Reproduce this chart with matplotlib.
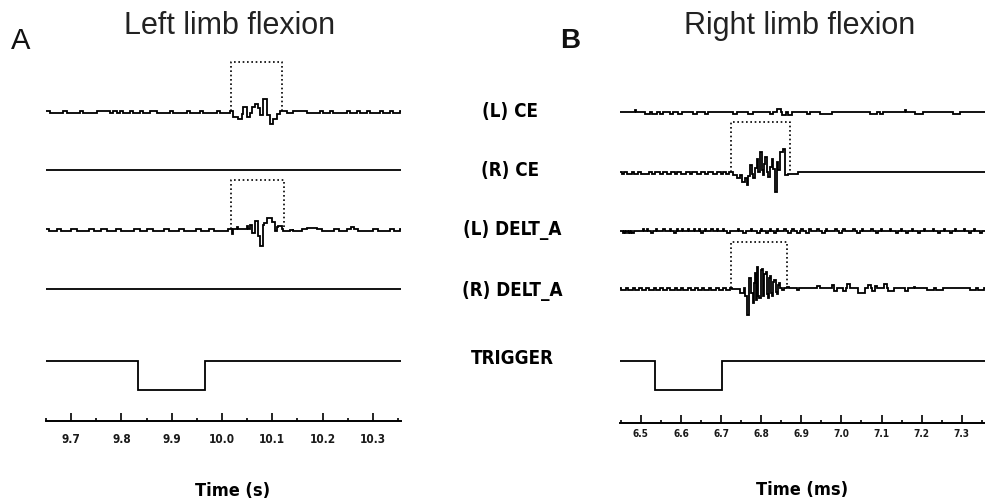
import matplotlib
matplotlib.use("Agg")
import matplotlib.pyplot as plt
from matplotlib.ticker import MultipleLocator, FormatStrFormatter

# === DATEN (Amplituden in Pixeln relativ zur Grundlinie, Zeit in s bzw. ms) ===

channels = ["(L) CE", "(R) CE", "(L) DELT_A", "(R) DELT_A", "TRIGGER"]

# --- A: linke Extremitaet ---
left_xlim = (9.650, 10.356)

lce_left_blips = [(9.658, 9.6845, -1.5), (9.691, 9.7176, -1.5), (9.7242, 9.7507, -1.5),
                  (9.7772, 9.7838, -1.5), (9.7905, 9.7971, -1.5), (9.8037, 9.817, -1.5),
                  (9.8236, 9.8369, -1.5), (9.8435, 9.8568, -1.5), (9.870, 9.8965, -1.5),
                  (9.9031, 9.9297, -1.5), (9.9363, 9.9562, -1.5), (9.9628, 9.9893, -1.5),
                  (9.996, 10.0158, -1.5), (10.1285, 10.1418, -1.5), (10.1682, 10.1947, -1.5),
                  (10.2013, 10.2146, -1.5), (10.2212, 10.2478, -1.5), (10.2544, 10.2677, -1.5),
                  (10.2743, 10.2875, -1.5), (10.2942, 10.314, -1.5), (10.3206, 10.3339, -1.5),
                  (10.3405, 10.3539, -1.5)]
lce_left_t = [10.0224, 10.0323, 10.0389, 10.0423, 10.049, 10.0556, 10.0589, 10.0655,
              10.0721, 10.0755, 10.0821, 10.0887, 10.0953, 10.1019, 10.1086, 10.1152]
lce_left_v = [-6, -8, -3, 4, -6, -2, 4, 7, 3, -4, 12, -4, -13, -8, -3, 0]

ldelt_left_blips = [(9.655, 9.672, -1.5), (9.680, 9.700, -1.5), (9.712, 9.735, -1.5),
                    (9.745, 9.760, -1.5), (9.772, 9.790, -1.5), (9.800, 9.826, -1.5),
                    (9.836, 9.850, -1.5), (9.862, 9.884, -1.5), (9.895, 9.915, -1.5),
                    (9.925, 9.948, -1.5), (9.958, 9.975, -1.5), (9.985, 10.012, -1.5),
                    (10.142, 10.160, -1.5), (10.170, 10.188, 1.5), (10.198, 10.222, -1.5),
                    (10.232, 10.248, -1.5), (10.256, 10.262, 2), (10.270, 10.300, -1.5),
                    (10.310, 10.335, -1.5), (10.342, 10.354, -1.5)]
ldelt_left_t = [10.0191, 10.0224, 10.0291, 10.0324, 10.0489, 10.0522, 10.0556, 10.0602,
                10.0655, 10.0721, 10.0754, 10.0807, 10.084, 10.0887, 10.0986, 10.1052,
                10.1085, 10.1118, 10.1185, 10.1218, 10.1351, 10.1417]
ldelt_left_v = [-5, 0, 2, 0, 3, 0, 4, -4, 8, -7, -17, 4, 6, 11, 7, -2, 2, 3, 0, -2, -1, 0]

trig_left_t = [9.833, 9.966]
trig_left_v = [-29, 0]

# Analysefenster (Start, Ende, Kanal, Hoehe)
windows_left = [(10.018, 10.119, 0, 49), (10.018, 10.123, 2, 49)]

# --- B: rechte Extremitaet ---
right_xlim = (6.448, 7.358)

lce_right_blips = [(6.4854, 6.4884, 2), (6.5103, 6.5228, -2), (6.527, 6.5394, -2),
                   (6.5478, 6.556, -2), (6.5727, 6.581, -2), (6.5934, 6.6018, -2),
                   (6.6309, 6.6392, -2), (6.66, 6.6682, -2), (6.7306, 6.739, -2),
                   (6.768, 6.7804, -2), (6.8221, 6.8303, -2), (6.8387, 6.8487, 3),
                   (6.8512, 6.862, -2.5), (6.866, 6.8761, -2.5), (6.9135, 6.9219, -2),
                   (6.9469, 6.9759, -2), (7.0715, 7.0881, -2), (7.0964, 7.1047, -2),
                   (7.1588, 7.1618, 2), (7.1837, 7.2043, -2), (7.2793, 7.296, -2)]

rce_right_blips = [(6.452, 6.458, -1.5), (6.466, 6.478, -1.5), (6.484, 6.492, -1.5),
                   (6.500, 6.520, -1.5), (6.528, 6.536, -1.5), (6.548, 6.556, -1.5),
                   (6.566, 6.574, -1.5), (6.584, 6.590, -1.5), (6.600, 6.612, -1.5),
                   (6.622, 6.628, -1.5), (6.640, 6.650, -1.5), (6.660, 6.668, -1.5),
                   (6.680, 6.690, -1.5), (6.700, 6.706, -1.5), (6.712, 6.720, -1.5)]
rce_right_t = [6.7306, 6.7389, 6.7473, 6.7514, 6.7597, 6.7639, 6.7680, 6.7722, 6.7763,
               6.7805, 6.7847, 6.7888, 6.7930, 6.7971, 6.8013, 6.8038, 6.8070, 6.8096,
               6.8140, 6.8179, 6.8220, 6.8262, 6.8300, 6.8345, 6.8387, 6.8430, 6.8470,
               6.8537, 6.8595, 6.8678, 6.8761, 6.8850, 6.8927]
rce_right_v = [-3, -6, -3, -10, -6, -13, -4, 7, -2, -6, 4, 13, 0, 20, 2, -3, 8, 15,
               0, -5, 5, 13, 3, -20, 10, 2, 20, 23, -3, -2, -2, -2, 0]

ldelt_right_down = [6.455, 6.461, 6.467, 6.473, 6.479]
ldelt_right_up = [6.505, 6.515, 6.538, 6.556, 6.572, 6.590, 6.603, 6.618, 6.632, 6.645,
                  6.660, 6.676, 6.690, 6.705, 6.742, 6.775, 6.800, 6.822, 6.840, 6.858,
                  6.878, 6.900, 6.920, 6.940, 6.962, 6.985, 7.005, 7.030, 7.052, 7.075,
                  7.098, 7.120, 7.148, 7.175, 7.205, 7.228, 7.255, 7.283, 7.305, 7.330]
ldelt_right_dips = [6.525, 6.582, 6.650, 6.715, 6.755, 6.790, 6.812, 6.832, 6.868, 6.890,
                    6.912, 6.952, 6.995, 7.040, 7.085, 7.135, 7.160, 7.190, 7.240, 7.270,
                    7.318, 7.345]

rdelt_right_blips = [(6.450, 6.462, -1.5), (6.468, 6.480, -1.5), (6.486, 6.496, -1.5),
                     (6.502, 6.514, -1.5), (6.520, 6.532, -1.5), (6.538, 6.548, -1.5),
                     (6.554, 6.566, -1.5), (6.572, 6.584, -1.5), (6.590, 6.600, -1.5),
                     (6.606, 6.618, -1.5), (6.624, 6.636, -1.5), (6.642, 6.652, -1.5),
                     (6.658, 6.670, -1.5), (6.676, 6.688, -1.5), (6.694, 6.706, -1.5),
                     (6.712, 6.722, -1.5), (6.9385, 6.9469, 2), (6.976, 6.981, 3),
                     (6.982, 6.9885, -3), (7.005, 7.012, -3), (7.013, 7.022, 4),
                     (7.0423, 7.059, -5), (7.067, 7.074, 3), (7.077, 7.083, -3),
                     (7.084, 7.088, 2), (7.105, 7.114, 4), (7.116, 7.130, -3),
                     (7.1587, 7.167, -3), (7.180, 7.184, 1.5), (7.213, 7.230, -1.5),
                     (7.236, 7.254, -1.5), (7.321, 7.335, -1.5), (7.340, 7.356, -1.5)]
rdelt_right_t = [6.7265, 6.7473, 6.7560, 6.7597, 6.7655, 6.7705, 6.7739, 6.7788, 6.7820,
                 6.7847, 6.7880, 6.7905, 6.7930, 6.7955, 6.7985, 6.8013, 6.8035, 6.8054,
                 6.8080, 6.8113, 6.8140, 6.8162, 6.8190, 6.8221, 6.8250, 6.8279, 6.8305,
                 6.8329, 6.8360, 6.8387, 6.8415, 6.8445, 6.8480, 6.8512, 6.8580, 6.8636,
                 6.8700, 6.8886, 6.8950]
rdelt_right_v = [-1, -5, 0, -8, -27, 10, -5, -15, 5, 15, -12, 21, -8, -10, 18, 19, -6, -8,
                 14, 16, -6, -10, 10, 12, -5, -8, 6, 8, -4, -6, 3, 5, 0, -2, 0, 1, 0, -2, 0]

trig_right_t = [6.535, 6.702]
trig_right_v = [-29, 0]

windows_right = [(6.724, 6.872, 1, 50), (6.724, 6.865, 3, 46)]

# === LAYOUT (Pixel im 985x502-Bild) ===
W, H = 985, 502
rows_left = [112, 171, 230, 290, 362]
rows_right = [113, 173, 232, 289, 362]


def build(xlim, blips=(), burst_t=(), burst_v=()):
    pts = [(xlim[0], 0.0)]
    for a, b, amp in blips:
        pts += [(a, amp), (b, 0.0)]
    pts += list(zip(burst_t, burst_v))
    pts.sort()
    pts.append((xlim[1], 0.0))
    return [p[0] for p in pts], [p[1] for p in pts]


def panel(x0, x1, ybot, xlim, traces, rows, windows, fmt, lab_size, lab_pad):
    ax = fig.add_axes([x0 / W, 1 - ybot / H, (x1 - x0) / W, (ybot - 55) / H])
    ax.set_xlim(*xlim)
    ax.set_ylim(ybot, 55)
    for (t, v), row in zip(traces, rows):
        ax.plot(t, [row - val for val in v], color="black", lw=1.3,
                drawstyle="steps-post", solid_joinstyle="miter")
    for a, b, ch, h in windows:
        r = rows[ch]
        ax.plot([a, a, b, b], [r, r - h, r - h, r], color="black", lw=1.2,
                linestyle=(0, (1, 1.6)))
    for s in ["top", "left", "right"]:
        ax.spines[s].set_visible(False)
    ax.spines["bottom"].set_linewidth(1.4)
    ax.set_yticks([])
    ax.xaxis.set_major_locator(MultipleLocator(0.1))
    ax.xaxis.set_minor_locator(MultipleLocator(0.05))
    ax.xaxis.set_major_formatter(FormatStrFormatter(fmt))
    ax.tick_params(axis="x", which="major", direction="in", length=6, width=1.2,
                   labelsize=lab_size, pad=lab_pad)
    ax.tick_params(axis="x", which="minor", direction="in", length=2.5, width=1.2)
    for lab in ax.get_xticklabels():
        lab.set_fontweight("bold")
        lab.set_fontstretch("condensed")
        lab.set_color("#1a1a1a")
    ax.patch.set_alpha(0)
    return ax


def ftext(x, y, s, **kw):
    fig.text(x / W, 1 - y / H, s, ha="center", va="center", **kw)


fig = plt.figure(figsize=(W / 100, H / 100), dpi=100)

# Kanal 2 und 4 links sind flach
left_traces = [
    build(left_xlim, lce_left_blips, lce_left_t, lce_left_v),
    build(left_xlim),
    build(left_xlim, ldelt_left_blips, ldelt_left_t, ldelt_left_v),
    build(left_xlim),
    build(left_xlim, (), trig_left_t, trig_left_v),
]

ldelt_right_blips = ([(t, t + 0.003, -2) for t in ldelt_right_down]
                     + [(t, t + 0.003, 2.5) for t in ldelt_right_up]
                     + [(t, t + 0.006, -2) for t in ldelt_right_dips])
right_traces = [
    build(right_xlim, lce_right_blips),
    build(right_xlim, rce_right_blips, rce_right_t, rce_right_v),
    build(right_xlim, ldelt_right_blips),
    build(right_xlim, rdelt_right_blips, rdelt_right_t, rdelt_right_v),
    build(right_xlim, (), trig_right_t, trig_right_v),
]

panel(46, 401, 422, left_xlim, left_traces, rows_left, windows_left, "%.1f", 8.5, 8)
panel(620, 985, 424, right_xlim, right_traces, rows_right, windows_right, "%.1f", 7.2, 3.5)

# Titel und Beschriftungen
ftext(21, 41, "A", fontsize=21, family="Liberation Sans", color="#111111")
ftext(570, 41, "B", fontsize=20, family="Liberation Sans", fontweight="bold", color="#111111")
ftext(230, 26, "Left limb flexion", fontsize=22, family="Liberation Sans", color="#222222")
ftext(800, 26, "Right limb flexion", fontsize=22, family="Liberation Sans", color="#222222")

label_y = [111, 171, 230, 291, 358]
label_x = [510, 510, 512, 512, 512]
for name, lx, ly in zip(channels, label_x, label_y):
    ftext(lx, ly, name, fontsize=13.5, fontweight="bold", fontstretch="condensed",
          family="DejaVu Sans")

ftext(233, 491, "Time (s)", fontsize=13, fontweight="bold", fontstretch="condensed",
      family="DejaVu Sans")
ftext(802, 490, "Time (ms)", fontsize=13, fontweight="bold", fontstretch="condensed",
      family="DejaVu Sans")

fig.savefig("out.png", dpi=100)
